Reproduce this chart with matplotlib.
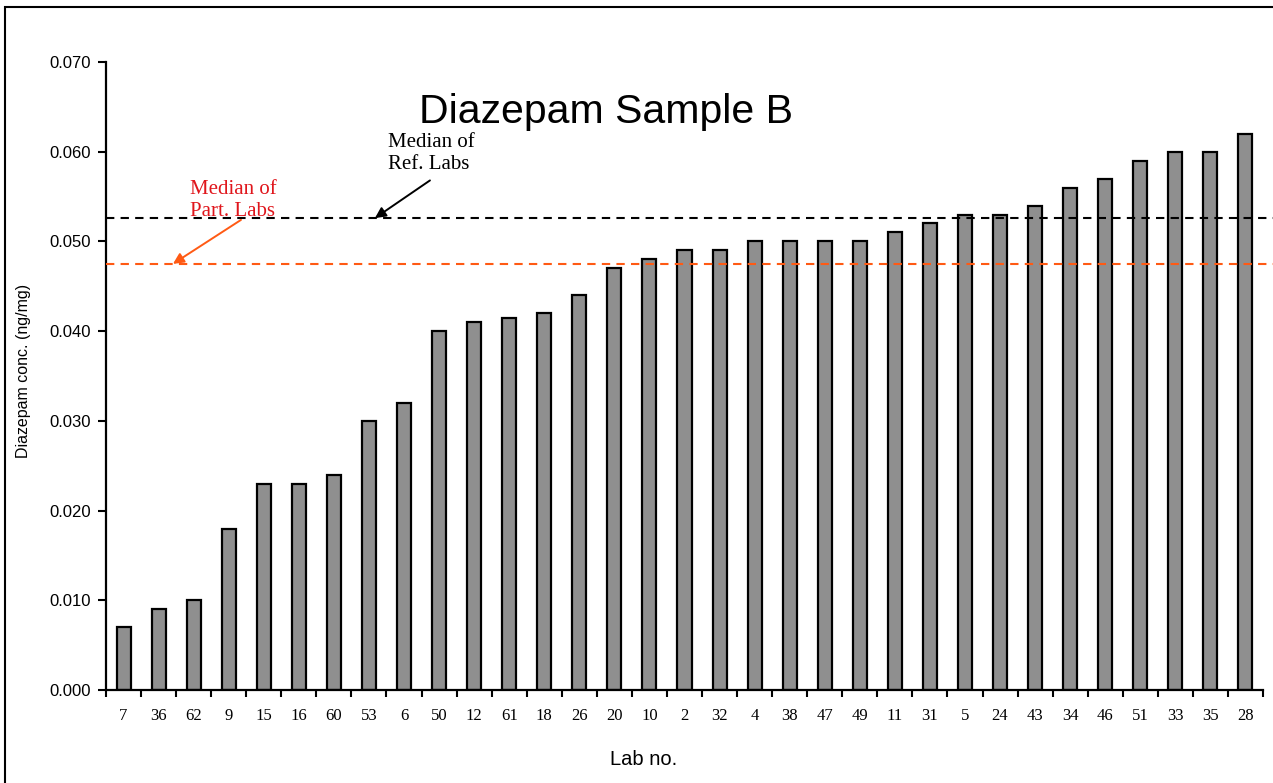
import numpy as np
import matplotlib
matplotlib.use('Agg')
import matplotlib.pyplot as plt
from matplotlib.patches import Rectangle

labs = ['7', '36', '62', '9', '15', '16', '60', '53', '6', '50',
        '12', '61', '18', '26', '20', '10', '2', '32', '4', '38',
        '47', '49', '11', '31', '5', '24', '43', '34', '46', '51',
        '33', '35', '28']
conc = [0.007, 0.009, 0.010, 0.018, 0.023, 0.023, 0.024, 0.030, 0.032, 0.040,
        0.041, 0.0415, 0.042, 0.044, 0.047, 0.048, 0.049, 0.049, 0.050, 0.050,
        0.050, 0.050, 0.051, 0.052, 0.053, 0.053, 0.054, 0.056, 0.057, 0.059,
        0.060, 0.060, 0.062]
median_ref = 0.0526
median_part = 0.0475
yticks = [0.000, 0.010, 0.020, 0.030, 0.040, 0.050, 0.060, 0.070]

fig = plt.figure(figsize=(12.73, 7.83), dpi=100)
# outer frame of the chart area (right/bottom edges fall off the picture)
fig.patches.append(Rectangle((5/1273, -0.1), 1.2, 1 - 7/783 + 0.1, transform=fig.transFigure,
                             fill=False, edgecolor='black', linewidth=1.5))

ax = fig.add_axes([106/1273, 93/783, 1157/1273, 628/783])
x = np.arange(len(labs))
ax.bar(x, conc, width=0.4, color='#8f8f8f', edgecolor='black', linewidth=1.6, zorder=2)

ax.set_xlim(-0.5, len(labs) - 0.5)
ax.set_ylim(0, 0.070)
ax.set_yticks(yticks)
ax.set_yticklabels(['%.3f' % v for v in yticks], fontfamily='Liberation Sans', fontsize=12)
ax.set_xticks(x)
ax.set_xticklabels(labs, fontfamily='Liberation Serif', fontsize=12)
ax.set_xticks(np.arange(len(labs) + 1) - 0.5, minor=True)
ax.tick_params(axis='x', which='major', length=0, pad=13)
ax.tick_params(axis='x', which='minor', length=5, width=1.5, direction='out')
ax.tick_params(axis='y', length=6, width=1.5, direction='out', pad=5)
for s in ['top', 'right']:
    ax.spines[s].set_visible(False)
for s in ['left', 'bottom']:
    ax.spines[s].set_linewidth(1.6)

# median lines
ax.plot([0, 1.009], [median_ref, median_ref], transform=ax.get_yaxis_transform(),
        color='black', linestyle=(0, (4, 3)), linewidth=1.5, clip_on=False, zorder=3)
ax.plot([0, 1.009], [median_part, median_part], transform=ax.get_yaxis_transform(),
        color='#ff5a14', linestyle=(0, (4, 3)), linewidth=1.5, clip_on=False, zorder=3)

ax.text(13.76, 0.0632, 'Diazepam Sample B', fontfamily='Liberation Sans', fontsize=29.5,
        ha='center', va='baseline')

ax.text(7.54, 0.0598, 'Median of\nRef. Labs', fontfamily='Liberation Serif', fontsize=15,
        ha='left', va='center')
ax.annotate('', xy=(7.17, median_ref), xytext=(8.74, 0.0568),
            arrowprops=dict(arrowstyle='-|>', color='black', lw=1.4, mutation_scale=16,
                            shrinkA=0, shrinkB=0))
ax.text(1.9, 0.0546, 'Median of\nPart. Labs', fontfamily='Liberation Serif', fontsize=15,
        color='#e0161c', ha='left', va='center')
ax.annotate('', xy=(1.41, median_part), xytext=(3.35, 0.0524),
            arrowprops=dict(arrowstyle='-|>', color='#ff5a14', lw=1.4, mutation_scale=16,
                            shrinkA=0, shrinkB=0))

ax.set_ylabel('Diazepam conc. (ng/mg)', fontfamily='Liberation Sans', fontsize=11.5)
ax.yaxis.set_label_coords(-0.0645, 0.508)
ax.set_xlabel('Lab no.', fontfamily='Liberation Sans', fontsize=14.5)
ax.xaxis.set_label_coords(0.465, -0.111)
ax.xaxis.label.set_verticalalignment('center')

fig.savefig('out.png', dpi=100)
